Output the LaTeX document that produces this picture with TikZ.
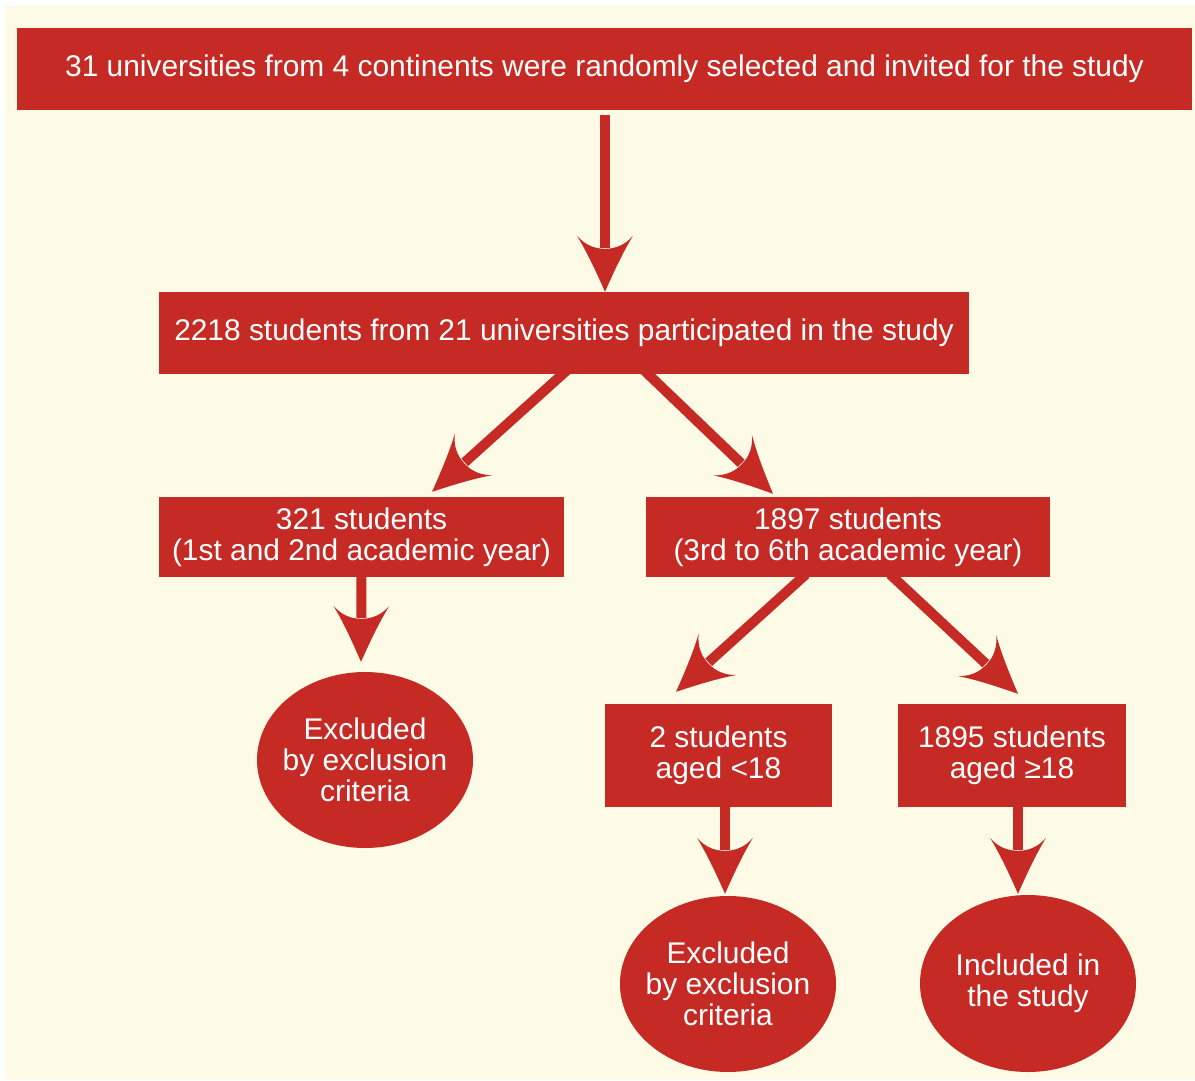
\documentclass[tikz,border=0pt]{standalone}
\usepackage{fontspec}
\setmainfont{Liberation Sans}
\usetikzlibrary{shapes.geometric,calc}
\definecolor{fred}{RGB}{197,42,37}
\definecolor{cream}{RGB}{253,251,230}
\pgfdeclarearrow{
  name = Flare,
  parameters = {},
  setup code = {
    \pgfarrowssettipend{0pt}
    \pgfarrowssetlineend{-44pt}
    \pgfarrowssetbackend{-55pt}
    \pgfarrowshullpoint{0pt}{0pt}
    \pgfarrowshullpoint{-55pt}{28pt}
    \pgfarrowshullpoint{-55pt}{-28pt}
  },
  drawing code = {
    \pgfpathmoveto{\pgfpoint{0pt}{0pt}}
    \pgfpathcurveto{\pgfpoint{-18pt}{8pt}}{\pgfpoint{-38pt}{17pt}}{\pgfpoint{-56pt}{28pt}}
    \pgfpathcurveto{\pgfpoint{-48pt}{21pt}}{\pgfpoint{-43pt}{12pt}}{\pgfpoint{-43pt}{0pt}}
    \pgfpathcurveto{\pgfpoint{-43pt}{-12pt}}{\pgfpoint{-48pt}{-21pt}}{\pgfpoint{-56pt}{-28pt}}
    \pgfpathcurveto{\pgfpoint{-38pt}{-17pt}}{\pgfpoint{-18pt}{-8pt}}{\pgfpoint{0pt}{0pt}}
    \pgfpathclose
    \pgfusepathqfill
  }
}
\begin{document}
\begin{tikzpicture}[x=1pt,y=-1pt,
  box/.style={fill=fred, text=white, inner sep=0pt, align=center,
    font=\fontsize{29.9}{31}\selectfont},
  rbox/.style={box, rectangle},
  oval/.style={box, ellipse, inner xsep=-12pt},
  conn/.style={draw=fred, line width=10pt, -Flare}]
\path[use as bounding box, fill=white] (0,0) rectangle (1195,1080);
\fill[cream] (5,6) rectangle (1195,1080);

\node[rbox, minimum width=1175pt, minimum height=82pt] (top) at (604.5,69)
  {31 universities from 4 continents were randomly selected and invited for the study};
\node[rbox, minimum width=810pt, minimum height=82pt] (b2) at (564,333)
  {2218 students from 21 universities participated in the study};
\node[rbox, minimum width=405pt, minimum height=80pt] (b3) at (361.5,537)
  {321 students\\(1st and 2nd academic year)};
\node[rbox, minimum width=404pt, minimum height=80pt] (b4) at (848,537)
  {1897 students\\(3rd to 6th academic year)};
\node[rbox, minimum width=227pt, minimum height=103pt] (b5) at (718.5,755.5)
  {2 students\\aged <18};
\node[rbox, minimum width=228pt, minimum height=103pt] (b6) at (1012,755.5)
  {1895 students\\aged ≥18};
\node[oval, minimum width=216pt, minimum height=176pt] (e1) at (365,760)
  {Excluded\\by exclusion\\criteria};
\node[oval, minimum width=216pt, minimum height=176pt] (e2) at (728,984)
  {Excluded\\by exclusion\\criteria};
\node[oval, minimum width=216pt, minimum height=177pt] (e3) at (1028,983.5)
  {Included in\\the study};

\draw[conn] ($(top.south)+(0.5,5)$) -- ($(top.south |- b2.north)+(0.5,0)$);
\draw[conn] ($(b2.south)+(3,-4)$) -- ($(b3.north)+(70.5,-5)$);
\draw[conn] ($(b2.south)+(80,-4)$) -- ($(b4.north)+(-75,-3)$);
\draw[conn] ($(b3.south)+(0,-2)$) -- ($(e1.north)+(-4,-10)$);
\draw[conn] ($(b4.south)+(-42,-3)$) -- ($(b5.north)+(-42.5,-12)$);
\draw[conn] ($(b4.south)+(42,-3)$) -- ($(b6.north)+(6,-10)$);
\draw[conn] ($(b5.south)+(6.5,-2)$) -- ($(e2.north)+(-3,-2)$);
\draw[conn] ($(b6.south)+(6,-2)$) -- ($(e3.north)+(-10,-1)$);
\end{tikzpicture}
\end{document}
